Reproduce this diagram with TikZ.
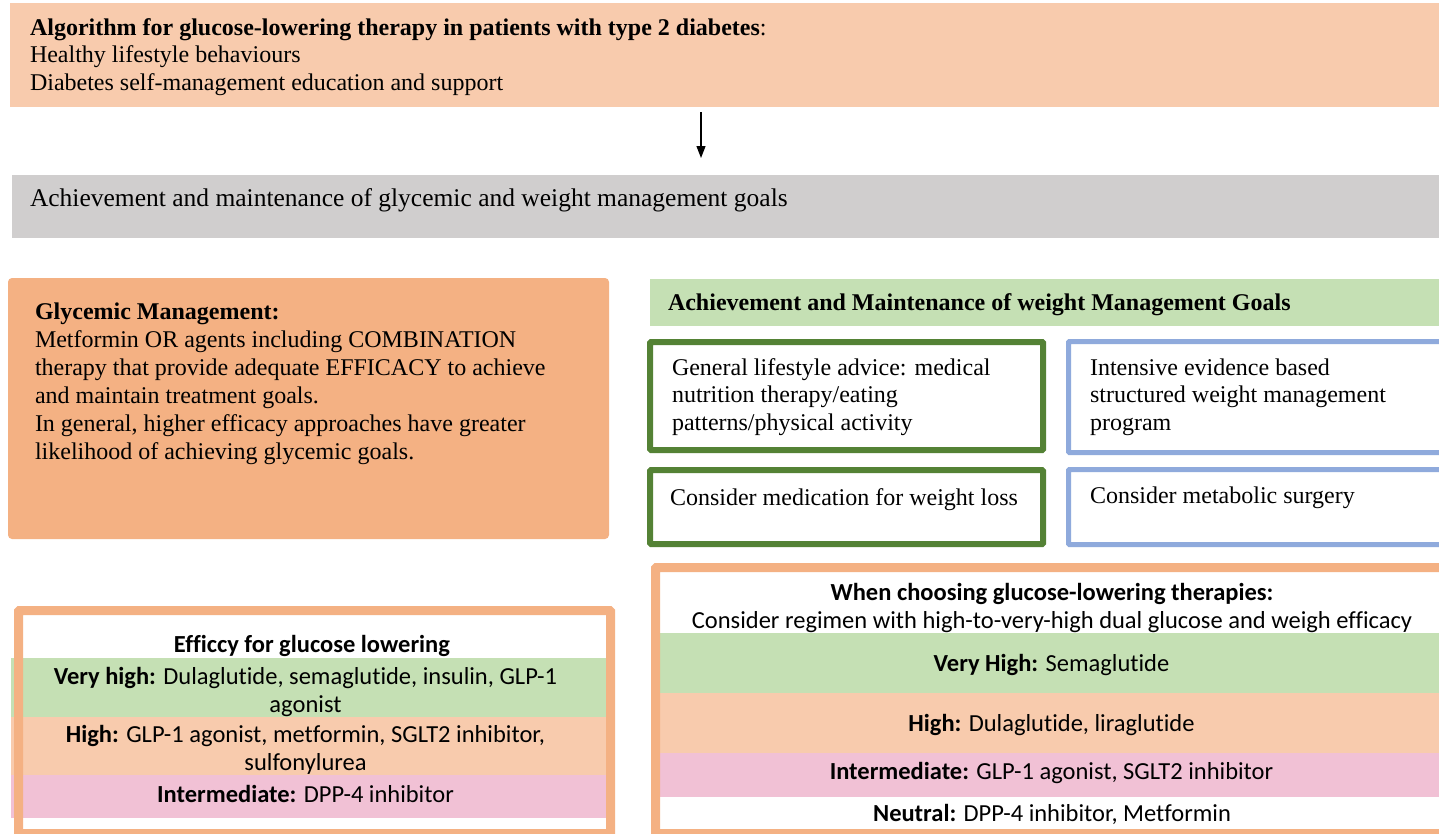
\documentclass[tikz,border=0pt]{standalone}
\usepackage{fontspec}
\setmainfont{Liberation Serif}
\newfontfamily\calfont[Ligatures=NoCommon]{Carlito}
\usetikzlibrary{arrows.meta,fit}
\definecolor{peach}{HTML}{F8CBAD}
\definecolor{greybox}{HTML}{D0CECE}
\definecolor{orangebox}{HTML}{F4B183}
\definecolor{lgreen}{HTML}{C5E0B4}
\definecolor{dgreen}{HTML}{548235}
\definecolor{lblue}{HTML}{8FAADC}
\definecolor{pinkband}{HTML}{F1C1D5}
\begin{document}
\begin{tikzpicture}[x=1pt,y=-1pt,
  every node/.style={inner sep=0pt, outer sep=0pt},
  fillbox/.style={fit={#1}, draw=none},
  serif/.style={font=\fontsize{24}{27.5}\selectfont, align=left, anchor=north west},
  sans/.style={font=\calfont\fontsize{24.5}{28}\selectfont, align=center},
  greenframe/.style={draw=dgreen, line width=6pt, fill=white, rounded corners=1pt},
  blueframe/.style={draw=lblue, line width=5pt, fill=white, rounded corners=1pt},
  orangeline/.style={draw=orangebox, line width=9pt, rounded corners=1pt},
  arr/.style={line width=1.2pt, -{Triangle[width=9pt,length=12pt]}}
]
\useasboundingbox (0,0) rectangle (1439,833);
\fill[white] (0,0) rectangle (1439,833);

% top box
\node[fillbox={(10,3) (1439,107)}, fill=peach] (top) {};
\node[serif] (toptxt) at (30,18.5) {\textbf{Algorithm for glucose-lowering therapy in patients with type 2 diabetes}:\\Healthy lifestyle behaviours\\Diabetes self-management education and support};

% grey box
\node[fillbox={(12,175) (1439,238)}, fill=greybox] (gray) {};
\node[serif, font=\fontsize{25.5}{28}\selectfont] (graytxt) at (30,188.5) {Achievement and maintenance of glycemic and weight management goals};

\coordinate (arrx) at (701,0);
\draw[arr, shorten <=5pt, shorten >=17pt] (top.south -| arrx) -- (gray.north -| arrx);

% glycemic management
\node[fillbox={(8,278) (609,539)}, fill=orangebox, rounded corners=4pt] (glyc) {};
\node[serif, font=\fontsize{24}{28}\selectfont] (glyctxt) at (35,302.5) {\textbf{Glycemic Management:}\\Metformin OR agents including COMBINATION\\therapy that provide adequate EFFICACY to achieve\\and maintain treatment goals.\\In general, higher efficacy approaches have greater\\likelihood of achieving glycemic goals.};

% weight management header
\node[fillbox={(650,279) (1439,326)}, fill=lgreen] (wmh) {};
\node[serif] (wmhtxt) at (668,293.5) {\textbf{Achievement and Maintenance of weight Management Goals}};

% weight boxes
\node[fillbox={(650,342) (1043,450)}, greenframe] (g1) {};
\node[serif] (g1txt) at (672,358.5) {General lifestyle advice: medical\\nutrition therapy/eating\\patterns/physical activity};
\node[fillbox={(1068.5,341.5) (1450,452.5)}, blueframe] (b1) {};
\node[serif] (b1txt) at (1090,358.5) {Intensive evidence based\\structured weight management\\program};
\node[fillbox={(650,470) (1043,544)}, greenframe] (g2) {};
\node[serif] (g2txt) at (670,488.5) {Consider medication for weight loss};
\node[fillbox={(1068.5,469.5) (1450,544.5)}, blueframe] (b2) {};
\node[serif] (b2txt) at (1090,486.5) {Consider metabolic surgery};

% efficacy for glucose lowering (bottom left)
\node[fillbox={(18.5,610.5) (610.5,833.5)}, fill=white] (eff) {};
\node[sans, font=\calfont\bfseries\fontsize{24.5}{28}\selectfont] (efftitle) at (312,646) {Efficcy for glucose lowering};
\node[fillbox={(11,658) (608,717)}, fill=lgreen] (e1) {};
\node[sans] (e1txt) at ([xshift=-4pt,yshift=-4pt]e1.center) {\textbf{Very high:} Dulaglutide, semaglutide, insulin, GLP-1\\agonist};
\node[fillbox={(11,717) (608,775)}, fill=peach] (e2) {};
\node[sans] (e2txt) at ([xshift=-4pt,yshift=-4pt]e2.center) {\textbf{High:} GLP-1 agonist, metformin, SGLT2 inhibitor,\\sulfonylurea};
\node[fillbox={(11,775) (608,818)}, fill=pinkband] (e3) {};
\node[sans] (e3txt) at ([xshift=-4pt,yshift=3pt]e3.center) {\textbf{Intermediate:} DPP-4 inhibitor};
\draw[orangeline] (eff.north west) rectangle (eff.south east);

% choosing therapies (bottom right)
\node[fillbox={(655.5,567.5) (1450,833.5)}, fill=white] (cho) {};
\node[sans] (chotitle) at (1052,608) {\textbf{When choosing glucose-lowering therapies:}\\Consider regimen with high-to-very-high dual glucose and weigh efficacy};
\node[fillbox={(658,633) (1439,693)}, fill=lgreen] (c1) {};
\node[sans] (c1txt) at ([xshift=3pt,yshift=-2pt]c1.center) {\textbf{Very High:} Semaglutide};
\node[fillbox={(658,693) (1439,753)}, fill=peach] (c2) {};
\node[sans] (c2txt) at ([xshift=3pt,yshift=-2pt]c2.center) {\textbf{High:} Dulaglutide, liraglutide};
\node[fillbox={(658,753) (1439,797)}, fill=pinkband] (c3) {};
\node[sans] (c3txt) at ([xshift=3pt,yshift=2pt]c3.center) {\textbf{Intermediate:} GLP-1 agonist, SGLT2 inhibitor};
\node[sans] (c4txt) at (1052,814) {\textbf{Neutral:} DPP-4 inhibitor, Metformin};
\draw[orangeline] (cho.north west) rectangle (cho.south east);
\end{tikzpicture}
\end{document}
